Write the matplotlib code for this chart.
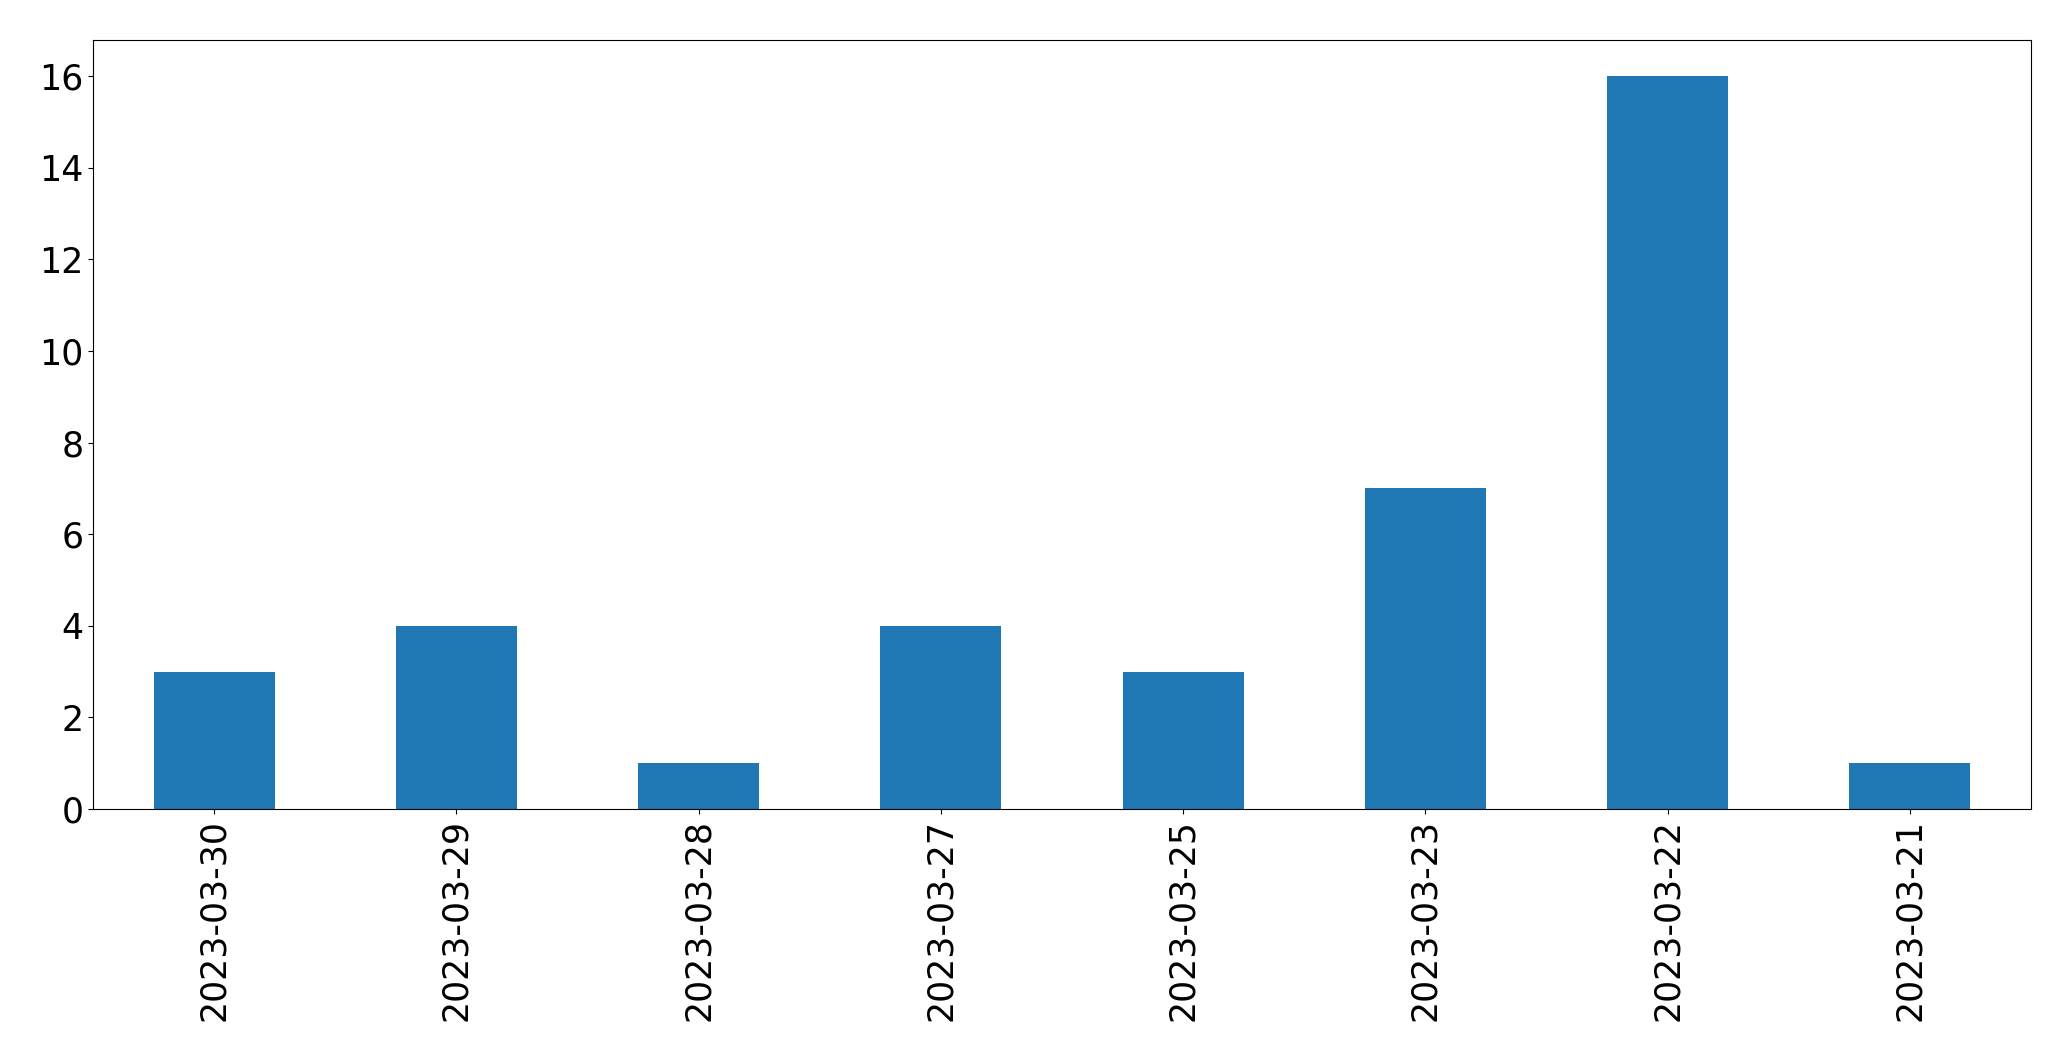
import matplotlib
matplotlib.use("Agg")
import matplotlib.pyplot as plt
import pandas as pd

dates = ["2023-03-30", "2023-03-29", "2023-03-28", "2023-03-27",
         "2023-03-25", "2023-03-23", "2023-03-22", "2023-03-21"]
counts = [3, 4, 1, 4, 3, 7, 16, 1]

s = pd.Series(counts, index=dates)

fig, ax = plt.subplots(figsize=(20.71, 10.61), dpi=100)
s.plot(kind="bar", ax=ax, color="#1f77b4")
ax.tick_params(labelsize=25)
fig.subplots_adjust(left=93 / 2071, right=2031 / 2071,
                    top=1 - 39.5 / 1061, bottom=1 - 809 / 1061)
fig.savefig("out.png", dpi=100)
